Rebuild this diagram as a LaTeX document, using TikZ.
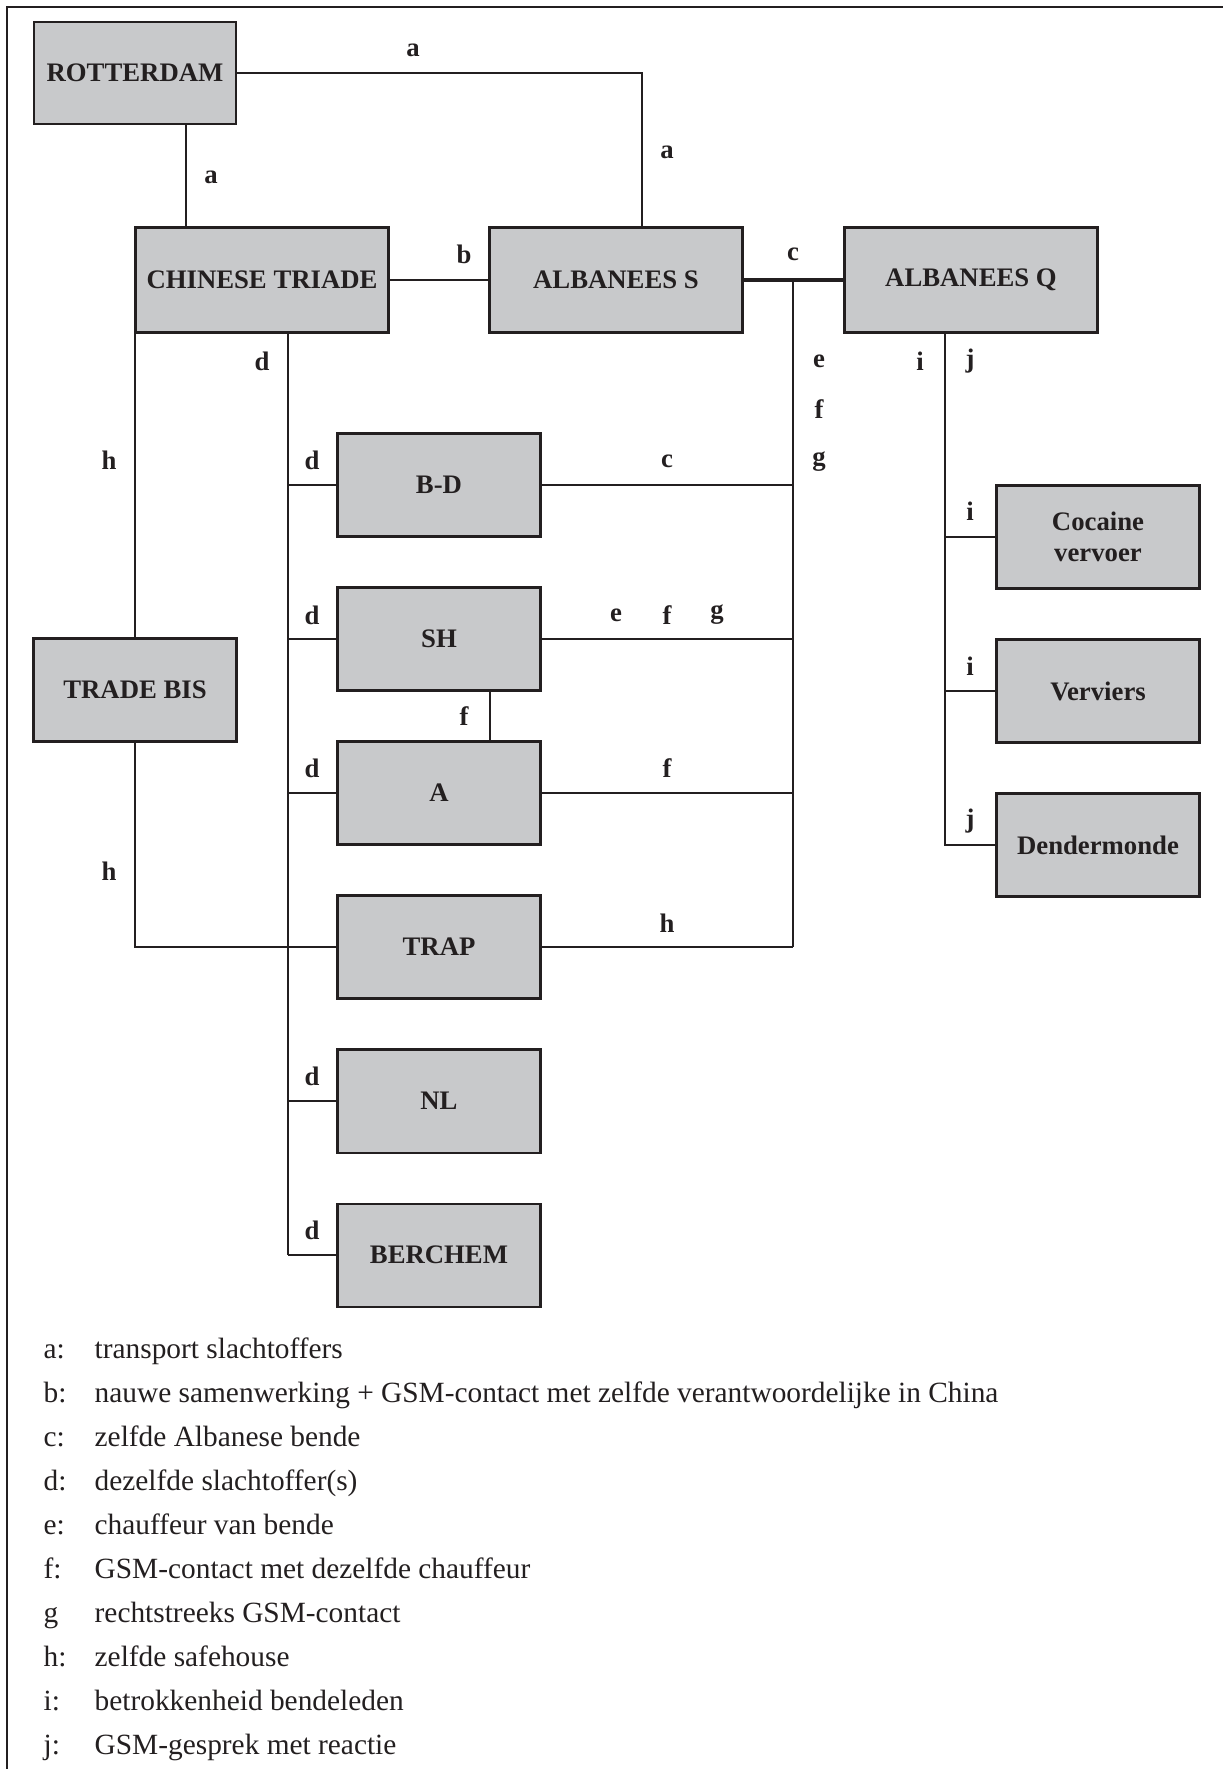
\documentclass[tikz,border=0pt]{standalone}
\usepackage{fontspec}
\setmainfont{Liberation Serif}
\usetikzlibrary{positioning}
\definecolor{boxgray}{RGB}{200,201,203}
\definecolor{inkgray}{RGB}{35,31,32}
\tikzset{
  orgbox/.style={
    rectangle,
    draw=inkgray,
    fill=boxgray,
    line width=0.7pt,
    minimum width=2.03cm,
    minimum height=1.03cm,
    align=center,
    inner sep=1pt,
    text=inkgray,
    font=\bfseries\fontsize{7.6}{9}\selectfont,
  },
  link/.style={
    line width=0.6pt,
    draw=inkgray,
  },
  tag/.style={
    inner sep=0pt,
    text=inkgray,
    font=\bfseries\fontsize{7.6}{9}\selectfont,
  },
  legend/.style={
    inner sep=0pt,
    anchor=base west,
    text=inkgray,
    font=\fontsize{8.35}{10}\selectfont,
  },
}

\begin{document}
\begin{tikzpicture}[x=0.01cm, y=-0.01cm]
    \useasboundingbox (0,0) rectangle (1223,1769);
    \draw [inkgray, line width=0.8pt] (7,1769) -- (7,7) -- (1223,7);

    % top row
    \node (rdam) [orgbox, minimum width=2.02cm, minimum height=1.02cm] at (135,73) {ROTTERDAM};
    \node (ct) [orgbox, minimum width=2.53cm, minimum height=1.05cm] at (262,280) {CHINESE TRIADE};
    \node (as) [orgbox, minimum width=2.53cm, minimum height=1.05cm] at (616,280) {ALBANEES S};
    \node (aq) [orgbox, minimum width=2.53cm, minimum height=1.05cm] at (971,280) {ALBANEES Q};

    % middle column
    \node (bd) [orgbox] at (439,485) {B-D};
    \node (sh) [orgbox, below=0.485cm of bd] {SH};
    \node (boxa) [orgbox, below=0.485cm of sh] {A};
    \node (trap) [orgbox, below=0.485cm of boxa] {TRAP};
    \node (nl) [orgbox, below=0.485cm of trap] {NL};
    \node (berchem) [orgbox, below=0.485cm of nl] {BERCHEM};

    \node (tb) [orgbox] at (135,690) {TRADE BIS};

    % right column
    \node (coc) [orgbox] at (1098,537) {Cocaine\\vervoer};
    \node (verv) [orgbox, below=0.485cm of coc] {Verviers};
    \node (dend) [orgbox, below=0.485cm of verv] {Dendermonde};

    \coordinate (atop) at (642,73);
    \coordinate (xa) at (186,0);
    \coordinate (cj) at (793,280);
    \coordinate (xf) at (490,0);
    \coordinate (xd) at (288,0);
    \coordinate (xq) at (945,0);

    \draw [link] (rdam.east) -- (atop) -- (atop |- as.north);
    \draw [link] (xa |- rdam.south) -- (xa |- ct.north);
    \draw [link] (ct.east) -- (as.west);
    \draw [link, line width=1.3pt] (as.east) -- (aq.west);
    \draw [link] (cj) -- (cj |- trap.east);
    \foreach \b in {bd,sh,boxa,trap}
      \draw [link] (\b.east) -- (\b.east -| cj);
    \draw [link] (xf |- sh.south) -- (xf |- boxa.north);
    \draw [link] (xd |- ct.south) -- (xd |- berchem.west);
    \foreach \b in {bd,sh,boxa,nl,berchem}
      \draw [link] (xd |- \b.west) -- (\b.west);
    \draw [link] (tb.north |- ct.south) -- (tb.north);
    \draw [link] (tb.south) -- (tb.south |- trap.west) -- (trap.west);
    \draw [link] (xq |- aq.south) -- (xq |- dend.west) -- (dend.west);
    \foreach \b in {coc,verv}
      \draw [link] (xq |- \b.west) -- (\b.west);

    % letters on the links
    \node (ta1) [tag] at (413,50) {a};
    \node (ta2) [tag] at (667,152) {a};
    \node (ta3) [tag] at (211,177) {a};
    \node (tb1) [tag] at (464,254) {b};
    \node (tc1) [tag] at (793,254) {c};
    \node (tc2) [tag] at (667,461) {c};
    \node (te1) [tag] at (819,361) {e};
    \node (tf1) [tag] at (819,409) {f};
    \node (tg1) [tag] at (819,462) {g};
    \node (td0) [tag] at (262,361) {d};
    \foreach \y [count=\n] in {460,615,768,1076,1230}
      \node (td\n) [tag] at (312,\y) {d};
    \node (te2) [tag] at (616,615) {e};
    \node (tf2) [tag] at (667,615) {f};
    \node (tg2) [tag] at (717,615) {g};
    \node (tf3) [tag] at (464,716) {f};
    \node (tf4) [tag] at (667,768) {f};
    \node (th1) [tag] at (109,460) {h};
    \node (th2) [tag] at (109,871) {h};
    \node (th3) [tag] at (667,923) {h};
    \node (ti1) [tag] at (920,361) {i};
    \node (tj1) [tag] at (970,361) {j};
    \node (ti2) [tag] at (970,511) {i};
    \node (ti3) [tag] at (970,666) {i};
    \node (tj2) [tag] at (970,821) {j};

    % legend
    \foreach \k/\txt [count=\n from 0] in {
        a:/transport slachtoffers,
        b:/nauwe samenwerking + GSM-contact met zelfde verantwoordelijke in China,
        c:/zelfde Albanese bende,
        d:/dezelfde slachtoffer(s),
        e:/chauffeur van bende,
        f:/GSM-contact met dezelfde chauffeur,
        g/rechtstreeks GSM-contact,
        h:/zelfde safehouse,
        i:/betrokkenheid bendeleden,
        j:/GSM-gesprek met reactie} {
      \node (key\n) [legend] at (43,1358+44.1*\n) {\k};
      \node (txt\n) [legend] at (94,1358+44.1*\n) {\txt};
    }
\end{tikzpicture}
\end{document}
